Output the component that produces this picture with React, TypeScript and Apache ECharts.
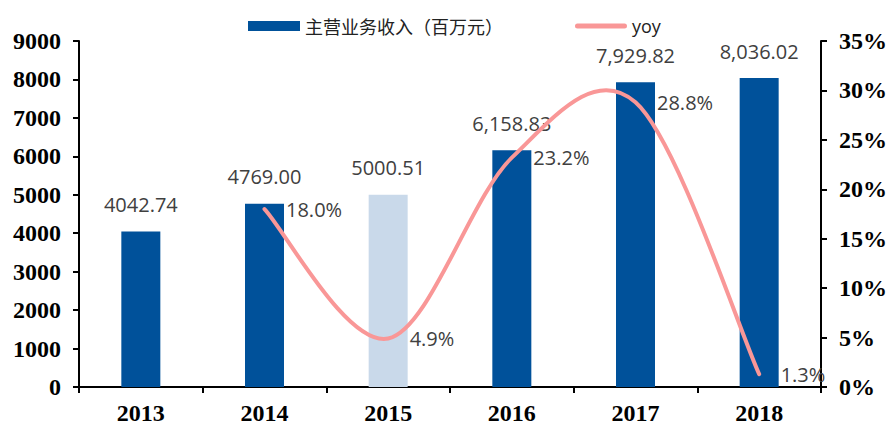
import React, { useEffect, useRef } from "react";
import * as echarts from "echarts";

const years = ["2013", "2014", "2015", "2016", "2017", "2018"];
const revenue = [4042.74, 4769.0, 5000.51, 6158.83, 7929.82, 8036.02];
const revenueLabels = ["4042.74", "4769.00", "5000.51", "6,158.83", "7,929.82", "8,036.02"];
const yoy: (number | null)[] = [null, 18.0, 4.9, 23.2, 28.8, 1.3];
const highlightIndex = 2;

const BAR = "#00519a";
const BAR_LIGHT = "#c9d9ea";
const LINE = "#f99797";
const axisFont = { fontFamily: "Liberation Serif", fontWeight: "bold" as const, fontSize: 24, color: "#000" };

// Catmull-Rom smoothing (like Excel's smoothed line), control points from data coords
function smoothPath(pts: number[][]): string {
  if (pts.length === 0) return "";
  let d = `M${pts[0][0]},${pts[0][1]}`;
  for (let i = 0; i < pts.length - 1; i++) {
    const p0 = pts[i - 1] || pts[i];
    const p1 = pts[i];
    const p2 = pts[i + 1];
    const p3 = pts[i + 2] || pts[i + 1];
    const c1x = p1[0] + (p2[0] - p0[0]) / 6;
    const c1y = p1[1] + (p2[1] - p0[1]) / 6;
    const c2x = p2[0] - (p3[0] - p1[0]) / 6;
    const c2y = p2[1] - (p3[1] - p1[1]) / 6;
    d += ` C${c1x},${c1y} ${c2x},${c2y} ${p2[0]},${p2[1]}`;
  }
  return d;
}

export default function App() {
  const ref = useRef<HTMLDivElement>(null);
  useEffect(() => {
    if (!ref.current) return;
    const chart = echarts.init(ref.current, undefined, { renderer: "svg" });
    chart.setOption({
      animation: false,
      legend: {
        left: 243,
        top: 12,
        itemWidth: 52,
        itemHeight: 10,
        itemGap: 72,
        data: [
          { name: "主营业务收入（百万元）", icon: "rect", textStyle: { fontFamily: "Noto Sans CJK SC", fontSize: 18, color: "#222" } },
          {
            name: "yoy",
            icon: "path://M2.5,0 L49.5,0 A2.5,2.5 0 0 1 49.5,5 L2.5,5 A2.5,2.5 0 0 1 2.5,0 Z",
            itemStyle: { color: LINE },
            textStyle: { fontFamily: "Open Sans", fontSize: 18, color: "#222" },
          },
        ],
      },
      grid: { left: 79, right: 67, top: 41, bottom: 39, containLabel: false },
      xAxis: {
        type: "category",
        data: years,
        axisLine: { lineStyle: { color: "#000", width: 2 } },
        axisTick: { show: true, alignWithLabel: false, length: 6, lineStyle: { color: "#000", width: 2 } },
        axisLabel: { ...axisFont, margin: 14 },
      },
      yAxis: [
        {
          type: "value",
          min: 0,
          max: 9000,
          interval: 1000,
          splitLine: { show: false },
          axisLine: { show: true, lineStyle: { color: "#000", width: 2 } },
          axisTick: { show: true, length: 6, lineStyle: { color: "#000", width: 2 } },
          axisLabel: { ...axisFont, margin: 18, formatter: (v: number) => String(v) },
        },
        {
          type: "value",
          min: 0,
          max: 35,
          interval: 5,
          position: "right",
          splitLine: { show: false },
          axisLine: { show: true, lineStyle: { color: "#000", width: 2 } },
          axisTick: { show: true, length: 6, lineStyle: { color: "#000", width: 2 } },
          axisLabel: { ...axisFont, margin: 18, formatter: "{value}%" },
        },
      ],
      series: [
        {
          name: "主营业务收入（百万元）",
          type: "bar",
          z: 2,
          barWidth: 39,
          itemStyle: { color: BAR },
          data: revenue.map((v, i) => ({
            value: v,
            itemStyle: { color: i === highlightIndex ? BAR_LIGHT : BAR },
          })),
          label: {
            show: true,
            position: "top",
            distance: 17,
            fontFamily: "Open Sans",
            fontSize: 20,
            color: "#404040",
            formatter: (p: any) => revenueLabels[p.dataIndex],
          },
        },
        {
          name: "yoyLabels",
          type: "line",
          z: 3,
          yAxisIndex: 1,
          data: yoy,
          symbol: "circle",
          symbolSize: 1,
          itemStyle: { color: LINE },
          lineStyle: { width: 0, opacity: 0 },
          label: {
            show: true,
            position: "right",
            distance: 21,
            fontFamily: "Open Sans",
            fontSize: 20,
            color: "#404040",
            formatter: (p: any) => (p.value == null ? "" : Number(p.value).toFixed(1) + "%"),
          },
        },
        {
          name: "yoy",
          type: "custom",
          z: 5,
          yAxisIndex: 1,
          itemStyle: { color: LINE },
          data: years.map((_, i) => [i, yoy[i] == null ? 0 : yoy[i]]),
          renderItem: (params: any, api: any) => {
            if (params.dataIndex !== 0) return null;
            const pts: number[][] = [];
            yoy.forEach((v, i) => {
              if (v != null) pts.push(api.coord([i, v]));
            });
            return {
              type: "path",
              shape: { pathData: smoothPath(pts) },
              style: { fill: "none", stroke: LINE, lineWidth: 4, lineCap: "round", lineJoin: "round" },
            };
          },
        },
      ],
    });
    return () => chart.dispose();
  }, []);
  return <div ref={ref} style={{ width: 890, height: 426, position: "absolute", left: 0, top: 0 }} />;
}
